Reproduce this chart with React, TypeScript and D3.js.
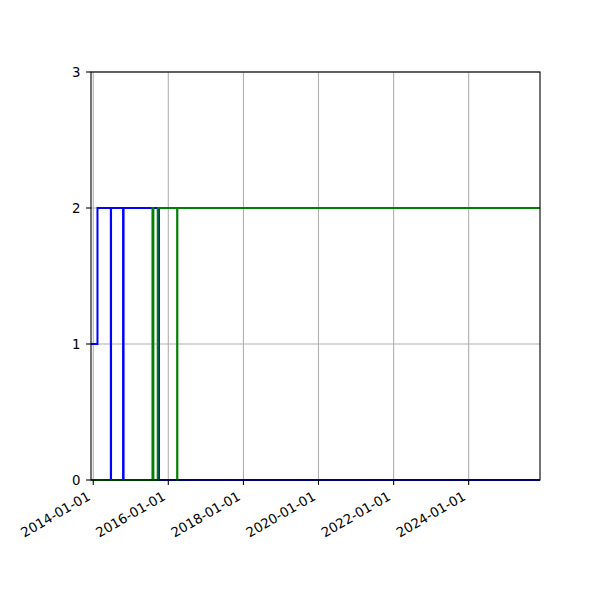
import * as d3 from "d3";
import { useEffect, useRef } from "react";

// step series (drawn as steps-post)
const blueDates = [
  "2013-12-10", "2014-02-11", "2014-06-21", "2014-06-23", "2014-10-18",
  "2014-10-23", "2015-10-02", "2025-11-25",
];
const blueValues = [1, 2, 0, 2, 0, 2, 0, 0];

const greenDates = [
  "2013-12-10", "2015-07-31", "2015-08-09", "2015-09-20", "2016-03-27",
  "2016-03-29", "2025-11-25",
];
const greenValues = [0, 2, 0, 2, 0, 2, 2];

const xTickLabels = [
  "2014-01-01", "2016-01-01", "2018-01-01", "2020-01-01", "2022-01-01",
  "2024-01-01",
];
const yTicks = [0, 1, 2, 3];

const W = 600;
const H = 600;
const M = { left: 91, right: 540, top: 72, bottom: 480 };
const FONT = "DejaVu Sans, sans-serif";

export default function App() {
  const ref = useRef<SVGSVGElement>(null);

  useEffect(() => {
    const svg = d3.select(ref.current);
    svg.selectAll("*").remove();

    const parse = d3.utcParse("%Y-%m-%d");
    const x = d3
      .scaleUtc()
      .domain([parse("2013-12-10"), parse("2025-11-25")])
      .range([M.left, M.right]);
    const y = d3.scaleLinear().domain([0, 3]).range([M.bottom, M.top]);

    // grid
    const grid = svg.append("g").attr("stroke", "#b0b0b0").attr("stroke-width", 1.1);
    xTickLabels.forEach((t) => {
      const px = x(parse(t));
      grid.append("line").attr("x1", px).attr("x2", px).attr("y1", M.top).attr("y2", M.bottom);
    });
    yTicks.forEach((v) => {
      grid.append("line").attr("x1", M.left).attr("x2", M.right).attr("y1", y(v)).attr("y2", y(v));
    });

    const line = d3
      .line<[Date, number]>()
      .x((d) => x(d[0]))
      .y((d) => y(d[1]))
      .curve(d3.curveStepAfter);

    const series = [
      { dates: blueDates, values: blueValues, color: "#0000ff" },
      { dates: greenDates, values: greenValues, color: "#008000" },
    ];
    series.forEach((s) => {
      const pts = s.dates.map((d, i) => [parse(d), s.values[i]] as [Date, number]);
      svg
        .append("path")
        .attr("d", line(pts))
        .attr("fill", "none")
        .attr("stroke", s.color)
        .attr("stroke-width", 2);
    });

    // spines
    svg
      .append("rect")
      .attr("x", M.left)
      .attr("y", M.top)
      .attr("width", M.right - M.left)
      .attr("height", M.bottom - M.top)
      .attr("fill", "none")
      .attr("stroke", "black")
      .attr("stroke-width", 1.1);

    // x ticks
    const xg = svg.append("g").attr("font-family", FONT).attr("font-size", 13.3);
    xTickLabels.forEach((t) => {
      const px = x(parse(t));
      xg.append("line")
        .attr("x1", px).attr("x2", px)
        .attr("y1", M.bottom).attr("y2", M.bottom + 4.9)
        .attr("stroke", "black").attr("stroke-width", 1.1);
      xg.append("text")
        .attr("transform", `translate(${px - 2},${M.bottom + 19}) rotate(-30)`)
        .attr("text-anchor", "end")
        .text(t);
    });

    // y ticks
    const yg = svg.append("g").attr("font-family", FONT).attr("font-size", 13.3);
    yTicks.forEach((v) => {
      yg.append("line")
        .attr("x1", M.left - 4.9).attr("x2", M.left)
        .attr("y1", y(v)).attr("y2", y(v))
        .attr("stroke", "black").attr("stroke-width", 1.1);
      yg.append("text")
        .attr("x", M.left - 10.5)
        .attr("y", y(v))
        .attr("dy", "0.35em")
        .attr("text-anchor", "end")
        .text(v);
    });
  }, []);

  return (
    <svg
      ref={ref}
      width={W}
      height={H}
      style={{ position: "absolute", left: 0, top: 0, background: "white" }}
    />
  );
}
